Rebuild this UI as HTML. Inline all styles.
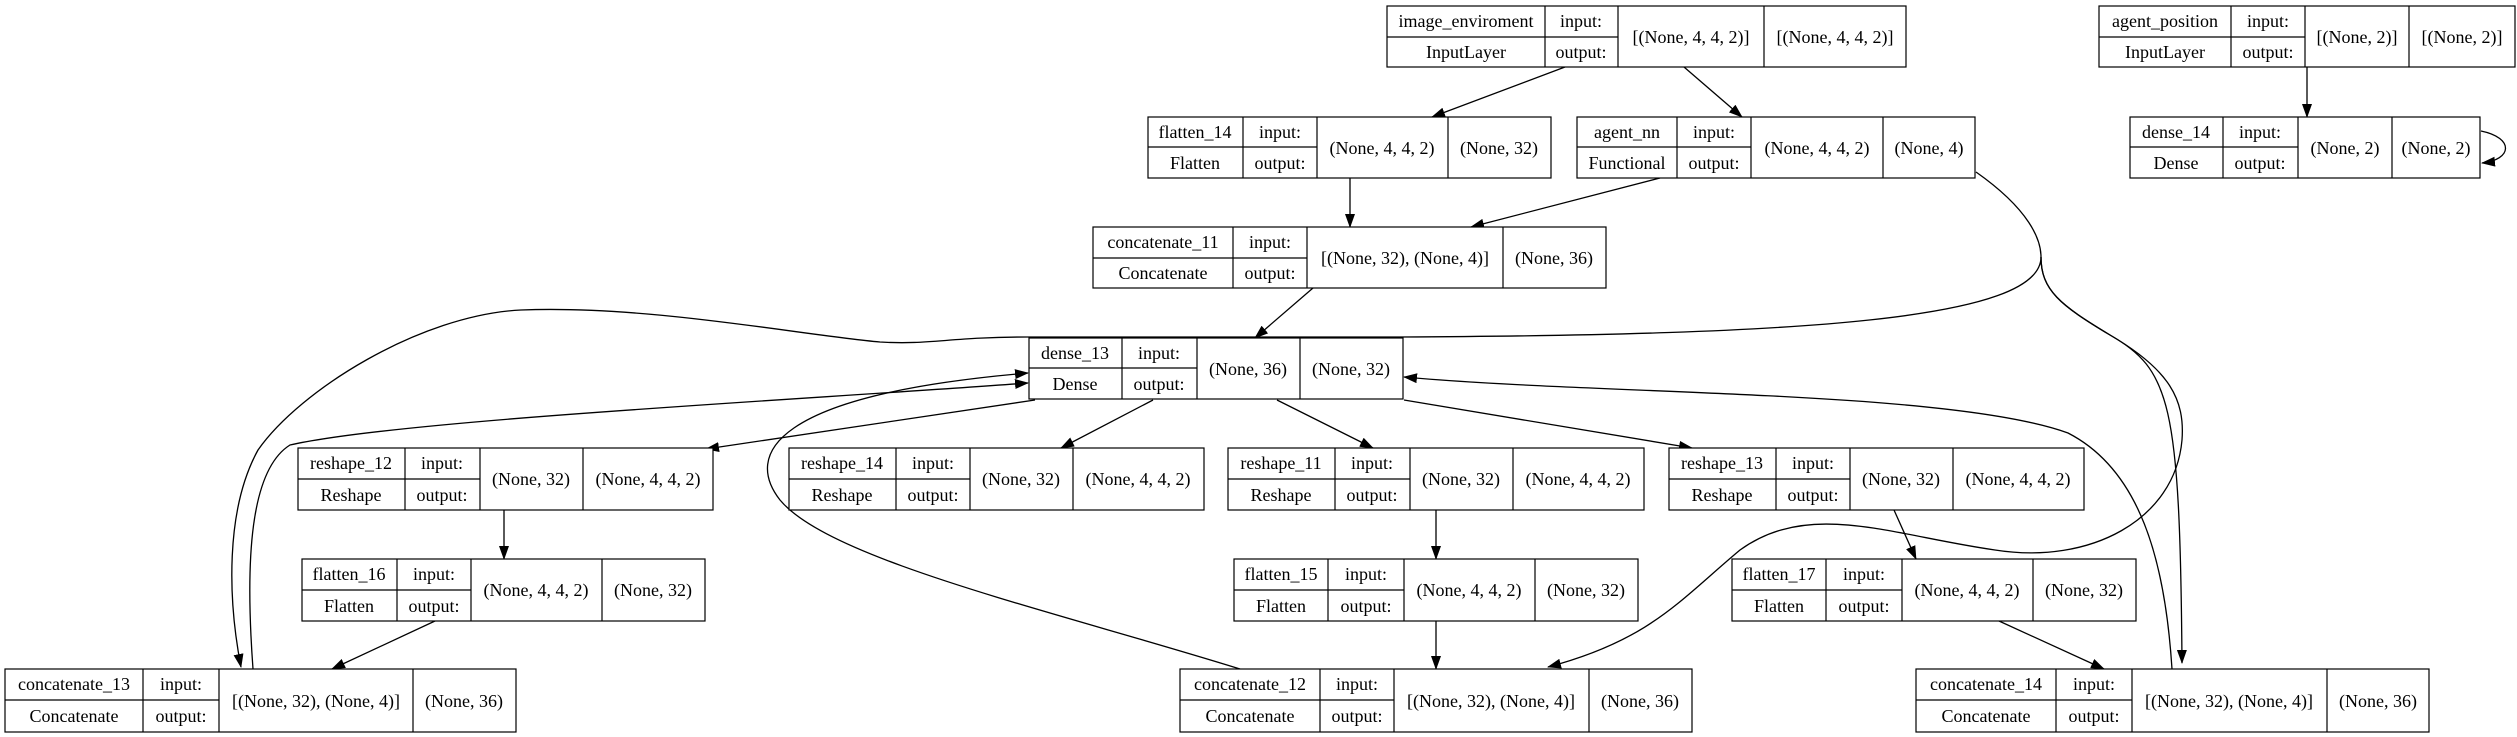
<!DOCTYPE html>
<html><head><meta charset="utf-8"><style>
html,body{margin:0;padding:0;background:#fff;}
svg{display:block;}
text{font-family:"Liberation Serif",serif;font-size:18px;fill:#000;}
</style></head><body>
<svg width="2517" height="737" viewBox="0 0 2517 737" xmlns="http://www.w3.org/2000/svg">
<defs>
<marker id="a" markerUnits="userSpaceOnUse" markerWidth="14" markerHeight="10" refX="13" refY="5" orient="auto"><path d="M0,0 L14,5 L0,10 Z" fill="#000"/></marker>
</defs>
<g fill="none" stroke="#000" stroke-width="1.3" marker-end="url(#a)">
<path d="M1565,67 L1432,117"/>
<path d="M1684,67 L1742,117"/>
<path d="M2307,67 L2307,117"/>
<path d="M2481,131 C2515,138 2512,160 2482,163"/>
<path d="M1350,178 L1350,227"/>
<path d="M1660,178 L1471,227"/>
<path d="M1313,288 L1255,338"/>
<path d="M1976,172 C2030,210 2041,240 2041,257 C2041,290 2060,305 2110,335 C2170,370 2180,400 2182,663"/>
<path d="M2041,257 C2041,290 2060,305 2110,335 C2170,370 2185,400 2182,440 C2175,520 2090,565 1995,550 C1890,535 1810,500 1740,550 C1680,600 1650,640 1548,667"/>
<path d="M2041,257 C2041,320 1800,335 1400,337 L1028,337 C950,337 930,345 880,342 C800,335 650,305 521,310 C420,315 300,390 258,450 C225,510 228,600 241,667"/>
<path d="M1035,400 L706,449"/>
<path d="M1153,400 L1061,448"/>
<path d="M1277,400 L1373,448"/>
<path d="M1404,400 L1692,448"/>
<path d="M253,669 C245,560 250,470 290,445 C400,420 800,400 1028,383"/>
<path d="M1240,669 C1050,610 830,560 780,500 C745,455 770,395 1028,373"/>
<path d="M2172,669 C2165,560 2140,470 2068,433 C1950,390 1600,395 1404,377"/>
<path d="M504,510 L504,559"/>
<path d="M435,621 L332,669"/>
<path d="M1436,510 L1436,559"/>
<path d="M1436,621 L1436,669"/>
<path d="M1894,510 L1916,559"/>
<path d="M1999,621 L2104,669"/>
</g>

<g stroke="#000" stroke-width="1.2" fill="#fff">
<rect x="1387" y="6" width="519" height="61"/>
<path d="M1545,6V67M1618,6V67M1764,6V67M1387,37H1618" fill="none"/>
<rect x="2099" y="6" width="416" height="61"/>
<path d="M2231,6V67M2305,6V67M2409,6V67M2099,37H2305" fill="none"/>
<rect x="1148" y="117" width="403" height="61"/>
<path d="M1243,117V178M1317,117V178M1448,117V178M1148,147H1317" fill="none"/>
<rect x="1577" y="117" width="398" height="61"/>
<path d="M1677,117V178M1751,117V178M1883,117V178M1577,147H1751" fill="none"/>
<rect x="2130" y="117" width="350" height="61"/>
<path d="M2223,117V178M2298,117V178M2392,117V178M2130,147H2298" fill="none"/>
<rect x="1093" y="227" width="513" height="61"/>
<path d="M1233,227V288M1307,227V288M1503,227V288M1093,258H1307" fill="none"/>
<rect x="1029" y="338" width="374" height="61"/>
<path d="M1122,338V399M1197,338V399M1300,338V399M1029,368H1197" fill="none"/>
<rect x="298" y="448" width="415" height="62"/>
<path d="M405,448V510M480,448V510M583,448V510M298,479H480" fill="none"/>
<rect x="789" y="448" width="415" height="62"/>
<path d="M896,448V510M970,448V510M1073,448V510M789,479H970" fill="none"/>
<rect x="1228" y="448" width="416" height="62"/>
<path d="M1335,448V510M1410,448V510M1513,448V510M1228,479H1410" fill="none"/>
<rect x="1669" y="448" width="415" height="62"/>
<path d="M1776,448V510M1850,448V510M1953,448V510M1669,479H1850" fill="none"/>
<rect x="302" y="559" width="403" height="62"/>
<path d="M397,559V621M471,559V621M602,559V621M302,590H471" fill="none"/>
<rect x="1234" y="559" width="404" height="62"/>
<path d="M1328,559V621M1404,559V621M1535,559V621M1234,590H1404" fill="none"/>
<rect x="1732" y="559" width="404" height="62"/>
<path d="M1826,559V621M1902,559V621M2033,559V621M1732,590H1902" fill="none"/>
<rect x="5" y="669" width="511" height="63"/>
<path d="M143,669V732M219,669V732M413,669V732M5,700H219" fill="none"/>
<rect x="1180" y="669" width="512" height="63"/>
<path d="M1320,669V732M1394,669V732M1589,669V732M1180,700H1394" fill="none"/>
<rect x="1916" y="669" width="513" height="63"/>
<path d="M2056,669V732M2132,669V732M2327,669V732M1916,700H2132" fill="none"/>
</g>

<g text-anchor="middle">
<text x="1466" y="27">image_enviroment</text><text x="1466" y="58">InputLayer</text>
<text x="1581" y="27">input:</text><text x="1581" y="58">output:</text>
<text x="1691" y="43">[(None, 4, 4, 2)]</text><text x="1835" y="43">[(None, 4, 4, 2)]</text>
<text x="2165" y="27">agent_position</text><text x="2165" y="58">InputLayer</text>
<text x="2268" y="27">input:</text><text x="2268" y="58">output:</text>
<text x="2357" y="43">[(None, 2)]</text><text x="2462" y="43">[(None, 2)]</text>
<text x="1195" y="138">flatten_14</text><text x="1195" y="169">Flatten</text>
<text x="1280" y="138">input:</text><text x="1280" y="169">output:</text>
<text x="1382" y="154">(None, 4, 4, 2)</text><text x="1499" y="154">(None, 32)</text>
<text x="1627" y="138">agent_nn</text><text x="1627" y="169">Functional</text>
<text x="1714" y="138">input:</text><text x="1714" y="169">output:</text>
<text x="1817" y="154">(None, 4, 4, 2)</text><text x="1929" y="154">(None, 4)</text>
<text x="2176" y="138">dense_14</text><text x="2176" y="169">Dense</text>
<text x="2260" y="138">input:</text><text x="2260" y="169">output:</text>
<text x="2345" y="154">(None, 2)</text><text x="2436" y="154">(None, 2)</text>
<text x="1163" y="248">concatenate_11</text><text x="1163" y="279">Concatenate</text>
<text x="1270" y="248">input:</text><text x="1270" y="279">output:</text>
<text x="1405" y="264">[(None, 32), (None, 4)]</text><text x="1554" y="264">(None, 36)</text>
<text x="1075" y="359">dense_13</text><text x="1075" y="390">Dense</text>
<text x="1159" y="359">input:</text><text x="1159" y="390">output:</text>
<text x="1248" y="375">(None, 36)</text><text x="1351" y="375">(None, 32)</text>
<text x="351" y="469">reshape_12</text><text x="351" y="501">Reshape</text>
<text x="442" y="469">input:</text><text x="442" y="501">output:</text>
<text x="531" y="485">(None, 32)</text><text x="648" y="485">(None, 4, 4, 2)</text>
<text x="842" y="469">reshape_14</text><text x="842" y="501">Reshape</text>
<text x="933" y="469">input:</text><text x="933" y="501">output:</text>
<text x="1021" y="485">(None, 32)</text><text x="1138" y="485">(None, 4, 4, 2)</text>
<text x="1281" y="469">reshape_11</text><text x="1281" y="501">Reshape</text>
<text x="1372" y="469">input:</text><text x="1372" y="501">output:</text>
<text x="1461" y="485">(None, 32)</text><text x="1578" y="485">(None, 4, 4, 2)</text>
<text x="1722" y="469">reshape_13</text><text x="1722" y="501">Reshape</text>
<text x="1813" y="469">input:</text><text x="1813" y="501">output:</text>
<text x="1901" y="485">(None, 32)</text><text x="2018" y="485">(None, 4, 4, 2)</text>
<text x="349" y="580">flatten_16</text><text x="349" y="612">Flatten</text>
<text x="434" y="580">input:</text><text x="434" y="612">output:</text>
<text x="536" y="596">(None, 4, 4, 2)</text><text x="653" y="596">(None, 32)</text>
<text x="1281" y="580">flatten_15</text><text x="1281" y="612">Flatten</text>
<text x="1366" y="580">input:</text><text x="1366" y="612">output:</text>
<text x="1469" y="596">(None, 4, 4, 2)</text><text x="1586" y="596">(None, 32)</text>
<text x="1779" y="580">flatten_17</text><text x="1779" y="612">Flatten</text>
<text x="1864" y="580">input:</text><text x="1864" y="612">output:</text>
<text x="1967" y="596">(None, 4, 4, 2)</text><text x="2084" y="596">(None, 32)</text>
<text x="74" y="690">concatenate_13</text><text x="74" y="722">Concatenate</text>
<text x="181" y="690">input:</text><text x="181" y="722">output:</text>
<text x="316" y="707">[(None, 32), (None, 4)]</text><text x="464" y="707">(None, 36)</text>
<text x="1250" y="690">concatenate_12</text><text x="1250" y="722">Concatenate</text>
<text x="1357" y="690">input:</text><text x="1357" y="722">output:</text>
<text x="1491" y="707">[(None, 32), (None, 4)]</text><text x="1640" y="707">(None, 36)</text>
<text x="1986" y="690">concatenate_14</text><text x="1986" y="722">Concatenate</text>
<text x="2094" y="690">input:</text><text x="2094" y="722">output:</text>
<text x="2229" y="707">[(None, 32), (None, 4)]</text><text x="2378" y="707">(None, 36)</text>
</g>
</svg>
</body></html>
